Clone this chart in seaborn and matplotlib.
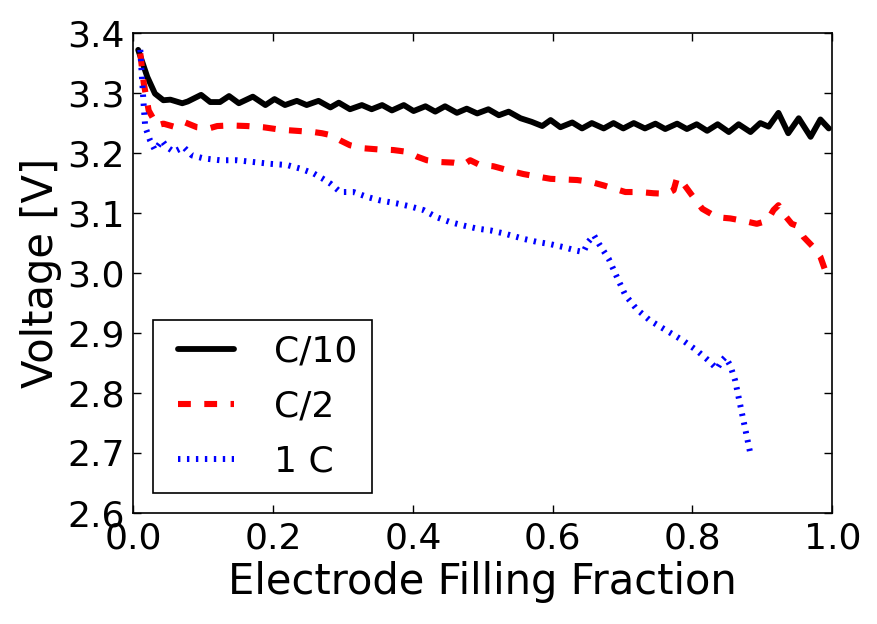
import numpy as np
import pandas as pd
import matplotlib
matplotlib.use('Agg')
import matplotlib.pyplot as plt
import seaborn as sns

# ── Data ──────────────────────────────────────────────────────
c10_x = [0.007, 0.020, 0.031, 0.043, 0.053, 0.070, 0.078, 0.097, 0.110, 0.124,
         0.137, 0.151, 0.171, 0.189, 0.202, 0.217, 0.234, 0.248, 0.265, 0.282,
         0.294, 0.310, 0.327, 0.341, 0.356, 0.370, 0.387, 0.401, 0.418, 0.432,
         0.446, 0.463, 0.477, 0.492, 0.508, 0.523, 0.537, 0.554, 0.570, 0.585,
         0.597, 0.611, 0.628, 0.642, 0.656, 0.673, 0.687, 0.701, 0.716, 0.732,
         0.747, 0.761, 0.778, 0.792, 0.806, 0.821, 0.836, 0.852, 0.866, 0.883,
         0.897, 0.909, 0.923, 0.937, 0.952, 0.969, 0.983, 0.995]
c10_v = [3.372, 3.327, 3.299, 3.288, 3.289, 3.283, 3.286, 3.297, 3.285, 3.285,
         3.295, 3.283, 3.294, 3.280, 3.290, 3.280, 3.287, 3.280, 3.287, 3.276,
         3.284, 3.273, 3.280, 3.273, 3.280, 3.271, 3.280, 3.270, 3.278, 3.269,
         3.278, 3.267, 3.274, 3.266, 3.273, 3.263, 3.269, 3.258, 3.252, 3.245,
         3.255, 3.243, 3.251, 3.241, 3.250, 3.241, 3.250, 3.241, 3.250, 3.241,
         3.249, 3.240, 3.249, 3.240, 3.248, 3.237, 3.248, 3.235, 3.248, 3.235,
         3.250, 3.244, 3.267, 3.233, 3.258, 3.227, 3.256, 3.241]

c2_x = [0.010, 0.015, 0.022, 0.034, 0.043, 0.058, 0.072, 0.091, 0.108, 0.120,
        0.139, 0.163, 0.186, 0.210, 0.234, 0.258, 0.270, 0.282, 0.296, 0.310,
        0.329, 0.351, 0.372, 0.392, 0.406, 0.420, 0.439, 0.458, 0.473, 0.482,
        0.496, 0.515, 0.534, 0.551, 0.558, 0.577, 0.597, 0.616, 0.635, 0.654,
        0.673, 0.687, 0.704, 0.725, 0.744, 0.763, 0.773, 0.778, 0.787, 0.799,
        0.814, 0.835, 0.854, 0.873, 0.892, 0.907, 0.916, 0.923, 0.930, 0.942,
        0.949, 0.959, 0.973, 0.983, 0.990]
c2_v = [3.366, 3.316, 3.271, 3.246, 3.249, 3.244, 3.252, 3.243, 3.241, 3.245,
        3.246, 3.245, 3.243, 3.239, 3.237, 3.235, 3.233, 3.230, 3.221, 3.213,
        3.208, 3.206, 3.205, 3.202, 3.194, 3.188, 3.185, 3.184, 3.181, 3.188,
        3.180, 3.178, 3.172, 3.167, 3.165, 3.161, 3.157, 3.156, 3.155, 3.152,
        3.146, 3.141, 3.135, 3.135, 3.133, 3.132, 3.138, 3.159, 3.149, 3.130,
        3.107, 3.093, 3.091, 3.087, 3.082, 3.087, 3.105, 3.113, 3.099, 3.082,
        3.079, 3.060, 3.043, 3.027, 3.004]

c1_x = [0.010, 0.012, 0.015, 0.017, 0.024, 0.031, 0.041, 0.048, 0.058, 0.072,
        0.084, 0.101, 0.124, 0.148, 0.172, 0.196, 0.220, 0.239, 0.258, 0.270,
        0.282, 0.296, 0.315, 0.334, 0.353, 0.377, 0.396, 0.415, 0.434, 0.453,
        0.473, 0.492, 0.511, 0.530, 0.549, 0.558, 0.577, 0.597, 0.616, 0.635,
        0.644, 0.651, 0.659, 0.666, 0.680, 0.692, 0.704, 0.720, 0.739, 0.763,
        0.787, 0.806, 0.823, 0.835, 0.842, 0.847, 0.854, 0.861, 0.866, 0.871,
        0.876, 0.881, 0.883]
c1_v = [3.372, 3.333, 3.277, 3.244, 3.221, 3.205, 3.221, 3.210, 3.202, 3.210,
        3.196, 3.191, 3.188, 3.188, 3.185, 3.182, 3.180, 3.174, 3.166, 3.158,
        3.149, 3.135, 3.135, 3.127, 3.121, 3.116, 3.111, 3.105, 3.093, 3.085,
        3.079, 3.074, 3.071, 3.066, 3.060, 3.057, 3.052, 3.048, 3.043, 3.037,
        3.035, 3.052, 3.063, 3.049, 3.024, 2.993, 2.963, 2.940, 2.921, 2.904,
        2.887, 2.871, 2.854, 2.840, 2.854, 2.860, 2.846, 2.821, 2.793, 2.765,
        2.737, 2.709, 2.698]

labels = ['C/10', 'C/2', '1 C']
x_ticks = [0.0, 0.2, 0.4, 0.6, 0.8, 1.0]
y_ticks = [2.6, 2.7, 2.8, 2.9, 3.0, 3.1, 3.2, 3.3, 3.4]

# ── Style ─────────────────────────────────────────────────────
sns.set_style('ticks', {'xtick.direction': 'in', 'ytick.direction': 'in',
                        'xtick.top': True, 'ytick.right': True,
                        'axes.edgecolor': 'black', 'text.color': 'black',
                        'axes.labelcolor': 'black',
                        'xtick.color': 'black', 'ytick.color': 'black'})
plt.rcParams['font.family'] = ['DejaVu Sans']

fig, ax = plt.subplots(figsize=(8.77, 6.24), dpi=100)
fig.subplots_adjust(left=0.152, right=0.949, top=0.947, bottom=0.178)

sns.lineplot(x=c10_x, y=c10_v, ax=ax, color='black', lw=4.2,
             sort=False, estimator=None, label=labels[0])
sns.lineplot(x=c2_x, y=c2_v, ax=ax, color='red', lw=4.4,
             linestyle=(0, (2.1, 2.2)), sort=False, estimator=None,
             label=labels[1])
sns.lineplot(x=c1_x, y=c1_v, ax=ax, color='blue', lw=4.3,
             linestyle=(0, (0.4, 1.1)), sort=False, estimator=None,
             label=labels[2])

ax.set_xlim(0, 1)
ax.set_ylim(2.6, 3.4)
ax.set_xticks(x_ticks)
ax.set_yticks(y_ticks)
ax.set_xticklabels([f'{t:.1f}' for t in x_ticks])
ax.set_yticklabels([f'{t:.1f}' for t in y_ticks])
ax.tick_params(labelsize=26, length=6, width=1, pad=6, colors='black')
for s in ax.spines.values():
    s.set_linewidth(1.2)

ax.set_xlabel('Electrode Filling Fraction', fontsize=30, color='black')
ax.set_ylabel('Voltage [V]', fontsize=30, color='black')

leg = ax.legend(loc='lower left', fontsize=26, fancybox=False,
                framealpha=1, edgecolor='black', borderaxespad=0.55,
                numpoints=2, handlelength=2.14, labelspacing=0.58)
leg.get_frame().set_linewidth(1.2)
for t in leg.get_texts():
    t.set_color('black')

plt.savefig('out.png', dpi=100)
plt.close()
